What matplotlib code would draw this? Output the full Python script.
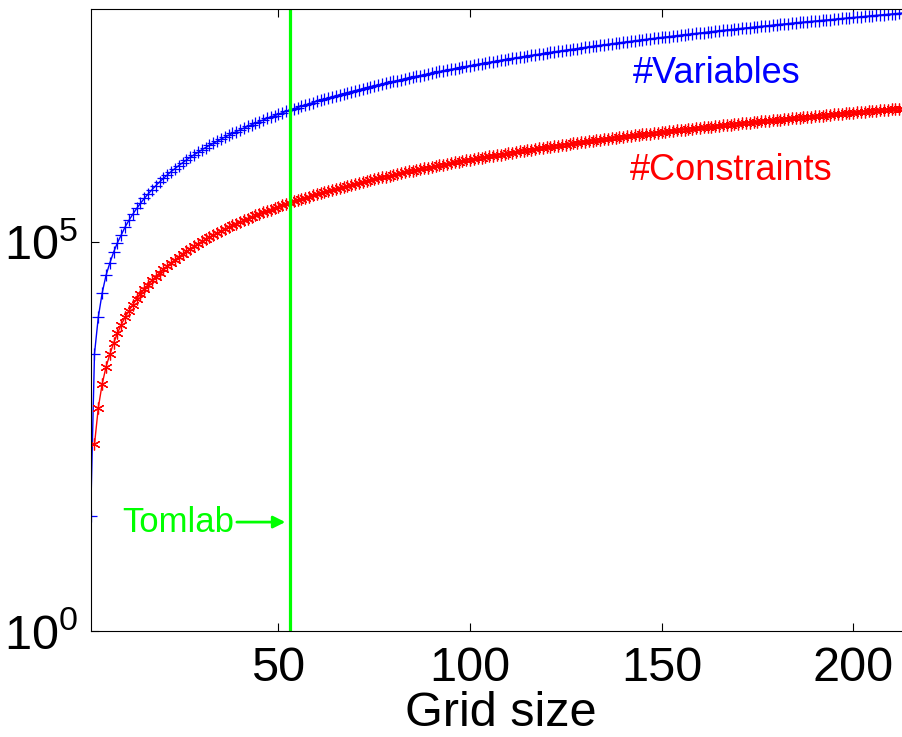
import numpy as np
import matplotlib
matplotlib.use('Agg')
import matplotlib.pyplot as plt
from matplotlib.ticker import NullLocator

plt.rcParams['font.family'] = 'Liberation Sans'
plt.rcParams['mathtext.fontset'] = 'custom'
plt.rcParams['mathtext.rm'] = 'Liberation Sans'
plt.rcParams['mathtext.it'] = 'Liberation Sans:italic'
plt.rcParams['mathtext.bf'] = 'Liberation Sans:bold'

# numero de variaveis, grid 1..215
n_variables = [
    30, 3680, 10900, 22100, 37300, 53900, 74500, 98500, 124000, 157000,
    191000, 229000, 271000, 316000, 365000, 417000, 473000, 533000, 596000, 663000,
    733000, 808000, 886000, 968000, 1.05e6, 1.14e6, 1.24e6, 1.33e6, 1.43e6, 1.54e6,
    1.65e6, 1.76e6, 1.87e6, 1.99e6, 2.12e6, 2.24e6, 2.38e6, 2.51e6, 2.65e6, 2.79e6,
    2.94e6, 3.09e6, 3.24e6, 3.40e6, 3.56e6, 3.73e6, 3.90e6, 4.07e6, 4.25e6, 4.43e6,
    4.62e6, 4.81e6, 5.00e6, 5.20e6, 5.40e6, 5.60e6, 5.81e6, 6.03e6, 6.24e6, 6.46e6,
    6.69e6, 6.92e6, 7.15e6, 7.39e6, 7.63e6, 7.87e6, 8.12e6, 8.38e6, 8.63e6, 8.89e6,
    9.16e6, 9.43e6, 9.70e6, 9.98e6, 1.03e7, 1.05e7, 1.08e7, 1.11e7, 1.14e7, 1.17e7,
    1.20e7, 1.23e7, 1.27e7, 1.30e7, 1.33e7, 1.36e7, 1.39e7, 1.43e7, 1.46e7, 1.50e7,
    1.53e7, 1.57e7, 1.60e7, 1.64e7, 1.67e7, 1.71e7, 1.75e7, 1.78e7, 1.82e7, 1.86e7,
    1.90e7, 1.94e7, 1.98e7, 2.02e7, 2.06e7, 2.10e7, 2.14e7, 2.18e7, 2.22e7, 2.27e7,
    2.31e7, 2.35e7, 2.39e7, 2.44e7, 2.48e7, 2.53e7, 2.57e7, 2.62e7, 2.67e7, 2.71e7,
    2.76e7, 2.81e7, 2.85e7, 2.90e7, 2.95e7, 3.00e7, 3.05e7, 3.10e7, 3.15e7, 3.20e7,
    3.25e7, 3.30e7, 3.35e7, 3.41e7, 3.46e7, 3.51e7, 3.57e7, 3.62e7, 3.67e7, 3.73e7,
    3.78e7, 3.84e7, 3.90e7, 3.95e7, 4.01e7, 4.07e7, 4.12e7, 4.18e7, 4.24e7, 4.30e7,
    4.36e7, 4.42e7, 4.48e7, 4.54e7, 4.60e7, 4.66e7, 4.72e7, 4.79e7, 4.85e7, 4.91e7,
    4.98e7, 5.04e7, 5.11e7, 5.17e7, 5.24e7, 5.30e7, 5.37e7, 5.43e7, 5.50e7, 5.57e7,
    5.64e7, 5.70e7, 5.77e7, 5.84e7, 5.91e7, 5.98e7, 6.05e7, 6.12e7, 6.19e7, 6.27e7,
    6.34e7, 6.41e7, 6.48e7, 6.56e7, 6.63e7, 6.71e7, 6.78e7, 6.86e7, 6.93e7, 7.01e7,
    7.08e7, 7.16e7, 7.24e7, 7.31e7, 7.39e7, 7.47e7, 7.55e7, 7.63e7, 7.71e7, 7.79e7,
    7.87e7, 7.95e7, 8.03e7, 8.11e7, 8.20e7, 8.28e7, 8.36e7, 8.45e7, 8.53e7, 8.61e7,
    8.70e7, 8.78e7, 8.87e7, 8.96e7, 9.04e7,
]

# numero de restricoes, grid 2..215
n_constraints = [
    250, 745, 1490, 2470, 3600, 5050, 6750, 8700, 10900,
    13100, 15700, 18500, 21500, 24800, 28300, 32100, 36100, 40300, 44700,
    49400, 54300, 59400, 64800, 70400, 76200, 82300, 88600, 95100, 102000,
    109000, 116000, 124000, 131000, 139000, 147000, 156000, 164000, 173000, 182000,
    192000, 201000, 211000, 221000, 231000, 242000, 252000, 263000, 274000, 286000,
    297000, 309000, 321000, 334000, 346000, 359000, 372000, 385000, 399000, 413000,
    426000, 441000, 455000, 470000, 485000, 500000, 515000, 531000, 546000, 562000,
    579000, 595000, 612000, 629000, 646000, 664000, 681000, 699000, 717000, 736000,
    754000, 773000, 792000, 811000, 831000, 851000, 871000, 891000, 911000, 932000,
    953000, 974000, 995000, 1.02e6, 1.04e6, 1.06e6, 1.08e6, 1.11e6, 1.13e6, 1.15e6,
    1.17e6, 1.20e6, 1.22e6, 1.25e6, 1.27e6, 1.29e6, 1.32e6, 1.34e6, 1.37e6, 1.39e6,
    1.42e6, 1.45e6, 1.47e6, 1.50e6, 1.52e6, 1.55e6, 1.58e6, 1.61e6, 1.63e6, 1.66e6,
    1.69e6, 1.72e6, 1.74e6, 1.77e6, 1.80e6, 1.83e6, 1.86e6, 1.89e6, 1.92e6, 1.95e6,
    1.98e6, 2.01e6, 2.04e6, 2.07e6, 2.10e6, 2.13e6, 2.17e6, 2.20e6, 2.23e6, 2.26e6,
    2.29e6, 2.33e6, 2.36e6, 2.39e6, 2.43e6, 2.46e6, 2.49e6, 2.53e6, 2.56e6, 2.60e6,
    2.63e6, 2.67e6, 2.70e6, 2.74e6, 2.77e6, 2.81e6, 2.85e6, 2.88e6, 2.92e6, 2.96e6,
    2.99e6, 3.03e6, 3.07e6, 3.11e6, 3.14e6, 3.18e6, 3.22e6, 3.26e6, 3.30e6, 3.34e6,
    3.38e6, 3.42e6, 3.46e6, 3.50e6, 3.54e6, 3.58e6, 3.62e6, 3.66e6, 3.70e6, 3.74e6,
    3.78e6, 3.83e6, 3.87e6, 3.91e6, 3.95e6, 4.00e6, 4.04e6, 4.08e6, 4.13e6, 4.17e6,
    4.22e6, 4.26e6, 4.30e6, 4.35e6, 4.39e6, 4.44e6, 4.49e6, 4.53e6, 4.58e6, 4.62e6,
    4.67e6, 4.72e6, 4.76e6, 4.81e6, 4.86e6, 4.91e6, 4.95e6, 5.00e6, 5.05e6, 5.10e6,
    5.15e6, 5.20e6, 5.24e6, 5.29e6, 5.34e6,
]

grid_var = list(range(1, 1 + len(n_variables)))
grid_con = list(range(2, 2 + len(n_constraints)))

tomlab_grid = 53
x_ticks = [50, 100, 150, 200]
y_ticks = [1, 1e5]
y_tick_labels = [r'$10^0$', r'$10^5$']

verde = (0, 1, 0)

fig = plt.figure(figsize=(9.03, 7.37), dpi=100)
ax = fig.add_axes([0.1004, 0.1442, 0.9081, 0.8436])

ax.plot(grid_var, n_variables, '-+', color='blue', lw=1, ms=8, mew=0.9)
# asterisco estilo matlab (6 bracos)
ax.plot(grid_con, n_constraints, '-', marker=(6, 2, 0), color='red', lw=1, ms=8.5, mew=0.9)
ax.axvline(tomlab_grid, color=verde, lw=2.3)

ax.set_yscale('log')
ax.set_xlim(1, 215)
ax.set_ylim(1, 1e8)
ax.set_xticks(x_ticks)
ax.set_yticks(y_ticks)
ax.set_yticklabels(y_tick_labels)
ax.yaxis.set_minor_locator(NullLocator())
ax.xaxis.set_minor_locator(NullLocator())
ax.tick_params(direction='in', length=6, width=0.8, top=True, right=True, labelsize=35)
ax.tick_params(axis='x', pad=11)
ax.tick_params(axis='y', pad=9)
for s in ax.spines.values():
    s.set_linewidth(0.8)

ax.set_xlabel('Grid size', fontsize=35, labelpad=0)

# rotulos das curvas
ax.text(142.5, 1.5e7, '#Variables', color='blue', fontsize=26, va='center')
ax.text(141.8, 8.3e5, '#Constraints', color='red', fontsize=26, va='center')
ax.annotate('Tomlab', xy=(51.8, 25), xytext=(9.2, 25), color=verde, fontsize=25,
            va='center', ha='left',
            arrowprops=dict(arrowstyle='-|>', color=verde, lw=2, shrinkA=0, shrinkB=0,
                            mutation_scale=18))

fig.savefig('out.png', dpi=100)
